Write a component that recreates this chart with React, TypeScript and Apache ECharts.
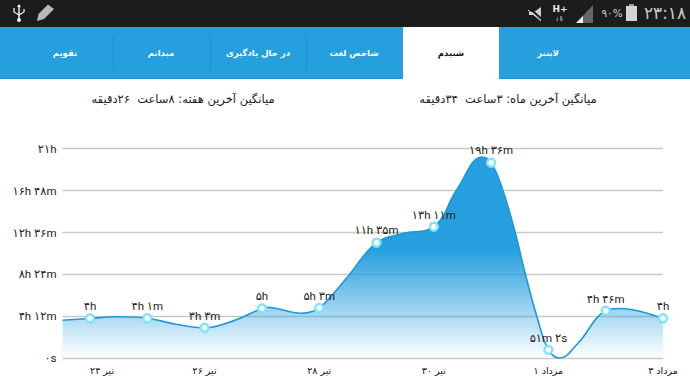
import React, { useEffect, useRef } from "react";
import * as echarts from "echarts";

const yTickLabels = ["۰s", "۴h ۱۲m", "۸h ۲۴m", "۱۲h ۳۶m", "۱۶h ۴۸m", "۲۱h"];
const xLabelPositions = [0.21, 2, 4, 6, 8, 10];
const xLabels = ["۲۴ تیر", "۲۶ تیر", "۲۸ تیر", "۳۰ تیر", "۱ مرداد", "۳ مرداد"];
// marked values, minutes
const markValues = [240, 241, 183, 300, 303, 695, 791, 1176, 51, 286, 240];
const markLabels = ["۴h", "۴h ۱m", "۳h ۳m", "۵h", "۵h ۳m", "۱۱h ۳۵m", "۱۳h ۱۱m", "۱۹h ۳۶m", "۵۱m ۲s", "۴h ۴۶m", "۴h"];
// points (position in days, minutes)
const curveX = [-0.48, 0, 0.47, 1, 1.5, 2, 2.5, 3, 3.08, 3.69, 4, 4.45, 5, 5.44, 6, 6.4, 6.84, 7, 7.2, 7.41, 7.6, 7.8, 8, 8.2, 8.52, 9, 9.25, 10];
const curveY = [229, 240, 250, 241, 205, 183, 225, 300, 307, 271, 303, 471, 695, 748, 791, 1013, 1210, 1176, 1015, 770, 503, 250, 51, 2, 92, 286, 299, 240];
const tabNames = ["تقویم", "میدانم", "در حال یادگیری", "شاخص لغت", "شنیدم", "لایتنر"];
const avgWeek = "میانگین آخرین هفته: ۸ساعت  ۲۶دقیقه";
const avgMonth = "میانگین آخرین ماه: ۳ساعت  ۳۴دقیقه";
const clock = "۲۳:۱۸";
const batteryText = "۹۰%";

const FONT = "'DejaVu Sans', sans-serif";
const LABEL_FONT = "Roboto, 'DejaVu Sans', sans-serif";
const BLUE = "#259fdd";

export default function App() {
  const ref = useRef<HTMLDivElement>(null);
  useEffect(() => {
    const chart = echarts.init(ref.current!, undefined, { renderer: "svg" });
    const tabCenters = [65, 161, 258, 354, 451, 548];
    const graphic: any[] = [
      { type: "rect", z: -1, shape: { x: 0, y: 0, width: 690, height: 27 }, style: { fill: "#1c1c1c" } },
      { type: "rect", z: -1, shape: { x: 0, y: 27, width: 690, height: 52 }, style: { fill: BLUE } },
      { type: "rect", z: -1, shape: { x: 0, y: 78, width: 690, height: 1 }, style: { fill: "#1f93d0" } },
      { type: "rect", z: -1, shape: { x: 403, y: 27, width: 96, height: 52 }, style: { fill: "#fff" } },
      ...[113, 210, 306].map((x) => ({
        type: "rect", z: -1, shape: { x, y: 36, width: 1, height: 34 }, style: { fill: "#1f8fca" },
      })),
      ...tabNames.map((t, i) => ({
        type: "text", x: tabCenters[i], y: 53,
        style: { text: t, fill: i === 4 ? "#111" : "#fff", font: `bold 8.5px ${FONT}`, textAlign: "center", textVerticalAlign: "middle" },
      })),
      { type: "text", x: 183, y: 99, style: { text: avgWeek, fill: "#222", font: `11.5px ${FONT}`, textAlign: "center", textVerticalAlign: "middle" } },
      { type: "text", x: 508, y: 99, style: { text: avgMonth, fill: "#222", font: `11.5px ${FONT}`, textAlign: "center", textVerticalAlign: "middle" } },
      // status bar: usb
      { type: "line", shape: { x1: 19, y1: 5, x2: 19, y2: 20 }, style: { stroke: "#eee", lineWidth: 1.5 } },
      { type: "polyline", shape: { points: [[14, 8], [14, 12], [19, 15], [24, 12], [24, 9]] }, style: { stroke: "#eee", fill: "none", lineWidth: 1.3 } },
      { type: "circle", shape: { cx: 19, cy: 20, r: 2 }, style: { fill: "#eee" } },
      { type: "polygon", shape: { points: [[19, 4], [17, 7], [21, 7]] }, style: { fill: "#eee" } },
      // pencil
      { type: "polygon", shape: { points: [[37, 21], [38.5, 14], [48, 4.5], [54, 9], [44, 19]] }, style: { fill: "#b8b8b8" } },
      // mute
      { type: "polygon", shape: { points: [[529, 12], [534, 12], [541, 7], [541, 20], [534, 15], [529, 15]] }, style: { fill: "#cfcfcf" } },
      { type: "line", shape: { x1: 529, y1: 8, x2: 543, y2: 20 }, style: { stroke: "#1c1c1c", lineWidth: 2 } },
      { type: "line", shape: { x1: 528, y1: 10, x2: 541, y2: 21 }, style: { stroke: "#e0e0e0", lineWidth: 1 } },
      { type: "text", x: 560, y: 8.5, style: { text: "H+", fill: "#e8e8e8", font: `bold 9px ${FONT}`, textAlign: "center", textVerticalAlign: "middle" } },
      { type: "polygon", shape: { points: [[556, 21], [558, 16], [558, 21]] }, style: { fill: "#777" } },
      { type: "polygon", shape: { points: [[560, 16], [562, 16], [563, 21], [560, 21]] }, style: { fill: "#777" } },
      // signal
      { type: "polygon", shape: { points: [[576, 23], [593, 5], [593, 23]] }, style: { fill: "#666" } },
      { type: "polygon", shape: { points: [[576, 23], [583, 16], [583, 23]] }, style: { fill: "#eee" } },
      { type: "text", x: 612, y: 13, style: { text: batteryText, fill: "#cfcfcf", font: `10.5px ${FONT}`, textAlign: "center", textVerticalAlign: "middle" } },
      // battery
      { type: "rect", shape: { x: 626, y: 6, width: 11, height: 15 }, style: { fill: "#d4d4d4" } },
      { type: "rect", shape: { x: 629, y: 4, width: 5, height: 2 }, style: { fill: "#9a9a9a" } },
      { type: "text", x: 665, y: 13, style: { text: clock, fill: "#c8c8c8", font: `17px ${FONT}`, textAlign: "center", textVerticalAlign: "middle" } },
    ];

    chart.setOption({
      animation: false,
      graphic,
      grid: { left: 62.5, right: 27, top: 148.7, bottom: 29.7 },
      xAxis: {
        type: "value",
        min: -0.48,
        max: 10,
        splitLine: { show: false },
        axisTick: { show: false },
        axisLine: { show: false },
        axisLabel: {
          customValues: xLabelPositions,
          formatter: (v: number) => xLabels[xLabelPositions.indexOf(v)] ?? "",
          color: "#111",
          fontFamily: FONT,
          fontSize: 9.5,
          margin: 7,
          hideOverlap: false,
        },
      },
      yAxis: {
        type: "value",
        min: 0,
        max: 1260,
        interval: 252,
        axisLine: { show: false },
        axisTick: { show: false },
        splitLine: { lineStyle: { color: "#c9c9c9", width: 1.3 } },
        axisLabel: {
          formatter: (v: number) => yTickLabels[Math.round(v / 252)],
          color: "#222",
          fontFamily: LABEL_FONT,
          fontSize: 11.5,
          margin: 6,
        },
      },
      series: [
        {
          type: "line",
          data: curveX.map((x, i) => [x, curveY[i]]),
          smooth: 0.4,
          showSymbol: false,
          symbol: "none",
          lineStyle: { color: "#1e98d9", width: 1.6 },
          areaStyle: {
            opacity: 1,
            color: new echarts.graphic.LinearGradient(0, 0, 0, 1, [
              { offset: 0, color: "rgba(37,159,221,1)" },
              { offset: 0.46, color: "rgba(37,159,221,1)" },
              { offset: 1, color: "rgba(37,159,221,0)" },
            ]),
          },
          z: 2,
        },
        {
          type: "scatter",
          data: markValues.map((v, i) => [i, v]),
          symbolSize: 8,
          itemStyle: { color: "#fff", borderColor: "#7fe4fb", borderWidth: 2.4, opacity: 1 },
          label: {
            show: true,
            position: "top",
            distance: 1,
            color: "#222",
            fontFamily: LABEL_FONT,
            fontSize: 11.5,
            formatter: (p: any) => markLabels[p.dataIndex],
          },
          z: 3,
        },
      ],
    });
    return () => chart.dispose();
  }, []);
  return <div ref={ref} style={{ position: "fixed", left: 0, top: 0, width: 690, height: 388, background: "#fff" }} />;
}
